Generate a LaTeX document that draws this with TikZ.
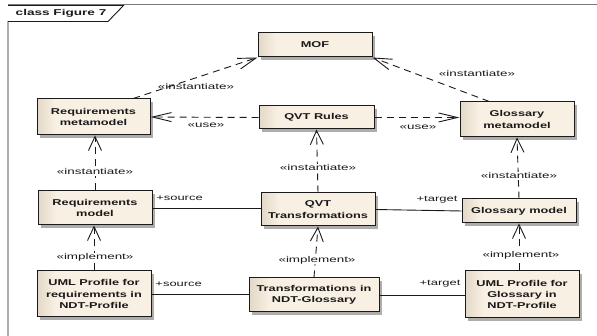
\documentclass[tikz,border=0pt]{standalone}
\usepackage{fontspec}
\setmainfont[FakeStretch=1.5]{Liberation Sans}
\newfontfamily\widefont[FakeStretch=1.6]{Liberation Sans}
\newfontfamily\titlefont[FakeStretch=1.6]{Liberation Sans}
\usetikzlibrary{arrows.meta,shadows}
\definecolor{boxdark}{HTML}{E3D8C6}
\definecolor{boxlight}{HTML}{F8F0E3}
\definecolor{ink}{HTML}{1A1A1A}
\definecolor{framegray}{HTML}{7A7A7A}
\pgfdeclarehorizontalshading{boxgrad}{100bp}{
  color(0bp)=(boxdark); color(25bp)=(boxdark); color(33bp)=(boxlight); color(100bp)=(boxlight)}
\tikzset{
  x=1pt,y=-1pt,
  classbox/.style={draw=ink,line width=1pt,shade,shading=boxgrad,minimum width=#1,
    align=center,font=\bfseries\fontsize{8.5}{11.3}\selectfont,text=ink,inner sep=0pt,
    general shadow={shadow xshift=3pt,shadow yshift=-3pt,fill=black!32}},
  lbl/.style={font=\widefont\fontsize{8.4}{10}\selectfont,text=ink,inner sep=0.5pt,fill=white},
  plainlbl/.style={font=\widefont\fontsize{8.4}{10}\selectfont,text=ink,inner sep=0.5pt},
  rolelbl/.style={font=\widefont\fontsize{8.1}{10}\selectfont,text=ink,inner sep=0.5pt},
  dep/.style={draw=ink,line width=0.9pt,dash pattern=on 7pt off 5pt},
  vdep/.style={dep,-{Straight Barb[length=14pt,width=13pt,line width=0.9pt]}},
  hdep/.style={dep,-{Straight Barb[length=19pt,width=9pt,line width=0.9pt]}},
  ddep/.style={dep,-{Straight Barb[length=18pt,width=11pt,line width=0.9pt]}},
  assoc/.style={draw=ink,line width=0.9pt},
}
\begin{document}
\begin{tikzpicture}
\useasboundingbox (0,0) rectangle (597,336);
\fill[white] (0,0) rectangle (597,336);
% frame
\coordinate (fbl) at (8,336);
\coordinate (ftl) at (8,4.5);
\coordinate (ftr) at (597,4.5);
\draw[framegray,line width=1pt] (ftl) -- (ftr);
\draw[ink,line width=0.9pt] (fbl) -- (8,21.5) -- (108,21.5) -- (124,5);
\draw[ink,line width=0.9pt] (8,5) -- (124,5);
\node[font=\titlefont\bfseries\fontsize{8.5}{10}\selectfont,text=ink,anchor=west,inner sep=0pt] (ftitle) at (15.5,13) {class Figure 7};
% classes
\node[classbox=114pt,minimum height=24pt] (mof) at (315,45) {MOF};
\node[classbox=113pt,minimum height=36pt] (reqmeta) at (93.5,117) {Requirements\\metamodel};
\node[classbox=115pt,minimum height=23pt] (rules) at (316.5,117.5) {QVT Rules};
\node[classbox=114pt,minimum height=35pt] (glometa) at (517,119.5) {Glossary\\metamodel};
\node[classbox=114pt,minimum height=34pt] (reqmodel) at (95,208) {Requirements\\model};
\node[classbox=114pt,minimum height=33pt] (trans) at (318,209.5) {QVT\\Transformations};
\node[classbox=114pt,minimum height=24pt] (glomodel) at (519,211) {Glossary model};
\node[classbox=114pt,minimum height=46pt] (umlreq) at (94,294) {UML Profile for\\requirements in\\NDT-Profile};
\node[classbox=130pt,minimum height=34pt] (transf) at (314,295) {Transformations in\\NDT-Glossary};
\node[classbox=114pt,minimum height=47pt] (umlglo) at (522,294.5) {UML Profile for\\Glossary in\\NDT-Profile};
% connectors
\draw[ddep] (reqmeta.25) -- (mof.south west);
\draw[ddep] (glometa.147) -- (mof.south east);
\draw[hdep] (rules.west) -- (reqmeta.east);
\draw[hdep] (rules.east) -- (rules.east -| glometa.west);
\draw[vdep] (reqmodel.north) -- (reqmodel.north |- reqmeta.south);
\draw[vdep] (trans.north) -- (rules.south);
\draw[vdep] (glomodel.north) -- (glometa.south);
\draw[vdep] (umlreq.north) -- (umlreq.north |- reqmodel.south);
\draw[vdep] (transf.north) -- (trans.south);
\draw[vdep] (umlglo.north -| glomodel.south) -- (glomodel.south);
\draw[assoc] (reqmodel.east) -- (trans.west |- reqmodel.east);
\draw[assoc] (umlreq.east) -- (transf.west |- umlreq.east);
\draw[assoc] (trans.east) -- (glomodel.west);
\draw[assoc] (transf.east) -- (umlglo.west |- transf.east);
% labels
\node[plainlbl] (l1) at (196,87) {«instantiate»};
\node[plainlbl] (l2) at (477,74) {«instantiate»};
\node[plainlbl] (l3) at (206,125) {«use»};
\node[plainlbl] (l4) at (418,127) {«use»};
\node[lbl] (l5) at (95,172) {«instantiate»};
\node[lbl] (l6) at (318,168) {«instantiate»};
\node[lbl] (l7) at (519,176) {«instantiate»};
\node[lbl] (l8) at (95,257) {«implement»};
\node[lbl] (l9) at (317,260) {«implement»};
\node[lbl] (l10) at (521,255) {«implement»};
\node[rolelbl] (l11) at (179.5,198) {+source};
\node[rolelbl] (l12) at (178.7,284) {+source};
\node[rolelbl] (l13) at (437,200) {+target};
\node[rolelbl] (l14) at (440,284) {+target};
\end{tikzpicture}
\end{document}
